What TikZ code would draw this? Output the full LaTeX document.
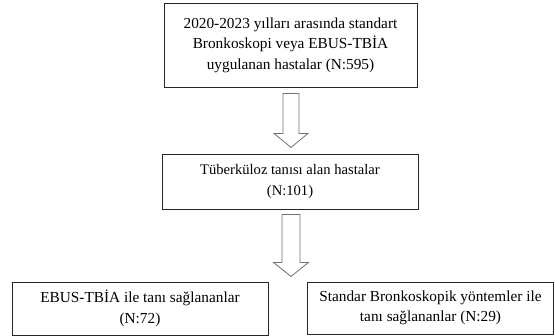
\documentclass[tikz,border=0pt]{standalone}
\usepackage{fontspec}
\setmainfont{Liberation Serif}
\usetikzlibrary{calc}
\tikzset{
  box/.style={draw=black!85, line width=0.9pt, inner sep=0pt, align=center,
    font=\fontsize{15.3}{20.5}\selectfont},
  smallbox/.style={box, font=\fontsize{14.6}{21}\selectfont},
  blockarrow/.style={draw=black!55, line width=0.8pt, fill=white, line join=miter}
}
\begin{document}
\begin{tikzpicture}[x=1pt,y=-1pt]
\useasboundingbox (0,0) rectangle (555,336);
\node[box, minimum width=253pt, minimum height=84pt] (b1) at (290.5,45)
  {2020-2023 yılları arasında standart\\Bronkoskopi veya EBUS-TBİA\\uygulanan hastalar (N:595)};
\node[smallbox, minimum width=256pt, minimum height=55pt] (b2) at (290,181.5)
  {Tüberküloz tanısı alan hastalar\\(N:101)};
\node[box, minimum width=256pt, minimum height=53pt] (b3) at (140,308.5)
  {EBUS-TBİA ile tanı sağlananlar\\(N:72)};
\node[box, minimum width=246pt, minimum height=52pt] (b4) at (430.5,308)
  {Standar Bronkoskopik yöntemler ile\\tanı sağlananlar (N:29)};
% arrow 1
\coordinate (a1) at ($(b1.south)+(0.5,6)$);
\draw[blockarrow] ($(a1)+(-8,0)$) -- ($(a1)+(8,0)$) -- ($(a1)+(8,40)$) -- ($(a1)+(17,40)$)
  -- ($(a1)+(0,54)$) -- ($(a1)+(-17,40)$) -- ($(a1)+(-8,40)$) -- cycle;
% arrow 2
\coordinate (a2) at ($(b2.south)+(1,5)$);
\draw[blockarrow] ($(a2)+(-9,0)$) -- ($(a2)+(9,0)$) -- ($(a2)+(9,48)$) -- ($(a2)+(17.5,48)$)
  -- ($(a2)+(0,62)$) -- ($(a2)+(-17.5,48)$) -- ($(a2)+(-9,48)$) -- cycle;
\end{tikzpicture}
\end{document}
